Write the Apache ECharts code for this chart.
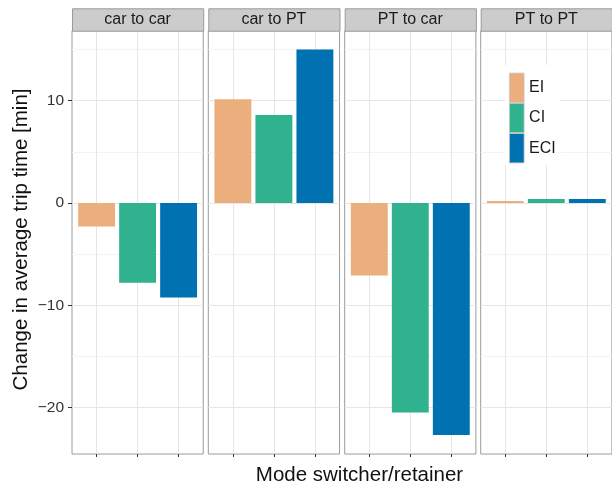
<!DOCTYPE html>
<html>
<head>
<meta charset="utf-8">
<script src="https://cdn.jsdelivr.net/npm/echarts@6/dist/echarts.min.js"></script>
<style>html,body{margin:0;padding:0;background:#fff}#chart{width:612px;height:486px}</style>
</head>
<body>
<div id="chart"></div>
<script>
// ---- data ----
const panels = ['car to car', 'car to PT', 'PT to car', 'PT to PT'];
const groups = ['EI', 'CI', 'ECI'];
const EI  = [-2.3, 10.15, -7.1, 0.2];
const CI  = [-7.8, 8.6, -20.5, 0.4];
const ECI = [-9.25, 15.0, -22.7, 0.4];
const yTicks = [-20, -10, 0, 10];
const yGridAll = [-20, -15, -10, -5, 0, 5, 10, 15];
const xPositions = [1, 2, 3];

// ---- layout / style ----
const FONT = 'Liberation Sans, Arial, sans-serif';
const colors = ['#ebae7d', '#30b28f', '#0071b1'];
const values = [EI, CI, ECI];
const panelLeft = [72, 208.3, 344.7, 480.7];
const panelW = 131.2;
const panelTop = 30.7;
const panelBottom = 454;
const stripTop = 8.3;
const yMin = -24.55, yMax = 16.85;
const xMin = 0.4, xMax = 3.6;
const barW = 0.9 * panelW / (xMax - xMin);

const grids = [], xAxes = [], yAxes = [], series = [], graphics = [];
panels.forEach((name, p) => {
  grids.push({
    left: panelLeft[p], top: panelTop, width: panelW, height: panelBottom - panelTop,
    show: true, borderColor: '#9a9a9a', borderWidth: 1, backgroundColor: '#fff'
  });
  xAxes.push({
    type: 'value', gridIndex: p, min: xMin, max: xMax, position: 'bottom',
    axisLine: { show: false, onZero: false },
    axisLabel: { show: false },
    axisTick: { show: true, length: 3, customValues: xPositions, lineStyle: { color: '#333', width: 1 } },
    splitLine: { show: true, lineStyle: { color: '#e6e6e6', width: 1 } }
  });
  yAxes.push({
    type: 'value', gridIndex: p, min: yMin, max: yMax, position: 'left',
    axisLine: { show: false, onZero: false },
    axisLabel: { show: false },
    axisTick: { show: false, customValues: yGridAll },
    splitLine: { show: true, lineStyle: { color: ['#e6e6e6', '#f3f3f3'], width: 1 } }
  });
  groups.forEach((g, gi) => {
    series.push({
      type: 'bar', name: g, xAxisIndex: p, yAxisIndex: p,
      data: [[xPositions[gi], values[gi][p]]],
      barWidth: barW, barGap: '-100%',
      itemStyle: { color: colors[gi] },
      emphasis: { disabled: true }
    });
  });
  graphics.push({
    type: 'rect', left: panelLeft[p], top: stripTop,
    shape: { width: panelW, height: panelTop - stripTop },
    style: { fill: '#cccccc', stroke: '#9a9a9a', lineWidth: 1 }, z: 10
  });
  graphics.push({
    type: 'text', x: panelLeft[p] + panelW / 2, y: (stripTop + panelTop) / 2 + 0.5,
    style: { text: name, fontSize: 16, fontFamily: FONT, fill: '#1a1a1a', align: 'center', verticalAlign: 'middle' }, z: 11
  });
});
// labelled y axis for the first panel
yAxes.push({
  type: 'value', gridIndex: 0, min: yMin, max: yMax, position: 'left', offset: 0,
  axisLine: { show: false, onZero: false },
  axisTick: { show: true, length: 4, customValues: yTicks, lineStyle: { color: '#333', width: 1 } },
  axisLabel: { show: true, customValues: yTicks, margin: 8, fontSize: 15.5, fontFamily: FONT, color: '#333',
    formatter: v => (v < 0 ? '\u2212' + Math.abs(v) : String(v)) },
  splitLine: { show: false }
});
graphics.push({
  type: 'text', x: 359.5, y: 475,
  style: { text: 'Mode switcher/retainer', fontSize: 20.5, fontFamily: FONT, fill: '#111', align: 'center', verticalAlign: 'middle' }
});
graphics.push({
  type: 'text', x: 21.5, y: 239.5, rotation: Math.PI / 2,
  style: { text: 'Change in average trip time [min]', fontSize: 20.5, fontFamily: FONT, fill: '#111', align: 'center', verticalAlign: 'middle' }
});

const chart = echarts.init(document.getElementById('chart'), null, { renderer: 'canvas' });
chart.setOption({
  animation: false,
  backgroundColor: '#fff',
  grid: grids, xAxis: xAxes, yAxis: yAxes, series: series,
  legend: {
    data: groups, orient: 'vertical', left: 505, top: 65,
    itemWidth: 14.7, itemHeight: 29.4, itemGap: 0, icon: 'rect',
    padding: [7.7, 5, 2, 4], backgroundColor: '#fff', selectedMode: false,
    itemStyle: { borderColor: '#c8c8c8', borderWidth: 0.8 },
    textStyle: { fontSize: 16, fontFamily: FONT, color: '#1a1a1a' }
  },
  graphic: graphics
});
</script>
</body>
</html>
